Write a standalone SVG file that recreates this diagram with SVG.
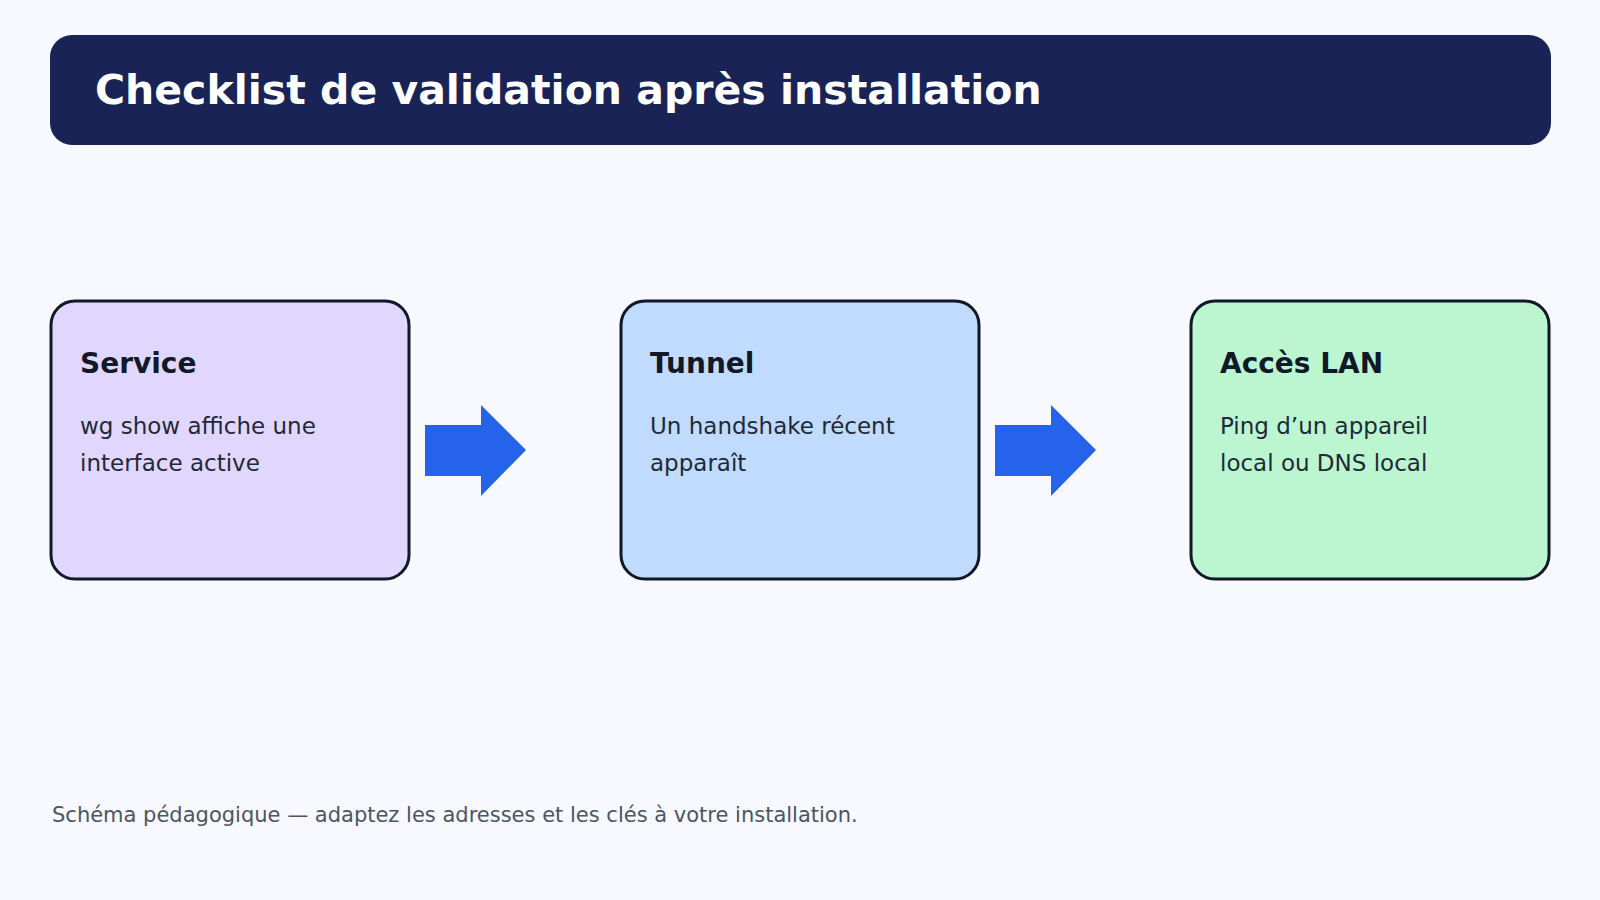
<svg xmlns="http://www.w3.org/2000/svg" width="1600" height="900" viewBox="0 0 1600 900">
<style>
text{font-family:"DejaVu Sans","Noto Sans",sans-serif}
.box{stroke:#111827;stroke-width:3}
.t{font-size:28px;font-weight:bold;fill:#111827}
.b{font-size:23px;fill:#1f2937}
.arr{fill:#2563eb}
</style>
<rect width="1600" height="900" fill="#f8f9fe"/>
<g id="header">
<rect x="50" y="35" width="1501" height="110" rx="22" fill="#192355"/>
<text x="95" y="104" font-size="41" font-weight="bold" fill="#ffffff">Checklist de validation après installation</text>
</g>
<g id="node-service">
<rect class="box" x="51" y="301" width="358" height="278" rx="24" fill="#e1d7fe"/>
<text class="t" x="80" y="373">Service</text>
<text class="b" x="80" y="434">wg show affiche une</text>
<text class="b" x="80" y="471">interface active</text>
</g>
<g id="node-tunnel">
<rect class="box" x="621" y="301" width="358" height="278" rx="24" fill="#c0dbfe"/>
<text class="t" x="650" y="373">Tunnel</text>
<text class="b" x="650" y="434">Un handshake récent</text>
<text class="b" x="650" y="471">apparaît</text>
</g>
<g id="node-lan">
<rect class="box" x="1191" y="301" width="358" height="278" rx="24" fill="#bbf6d0"/>
<text class="t" x="1220" y="373">Accès LAN</text>
<text class="b" x="1220" y="434">Ping d’un appareil</text>
<text class="b" x="1220" y="471">local ou DNS local</text>
</g>
<g id="connectors">
<polygon class="arr" points="425,425 481,425 481,405 526,450 481,496 481,476 425,476"/>
<polygon class="arr" points="995,425 1051,425 1051,405 1096,450 1051,496 1051,476 995,476"/>
</g>
<text x="52" y="822" font-size="21" fill="#4b5563">Schéma pédagogique — adaptez les adresses et les clés à votre installation.</text>
</svg>
